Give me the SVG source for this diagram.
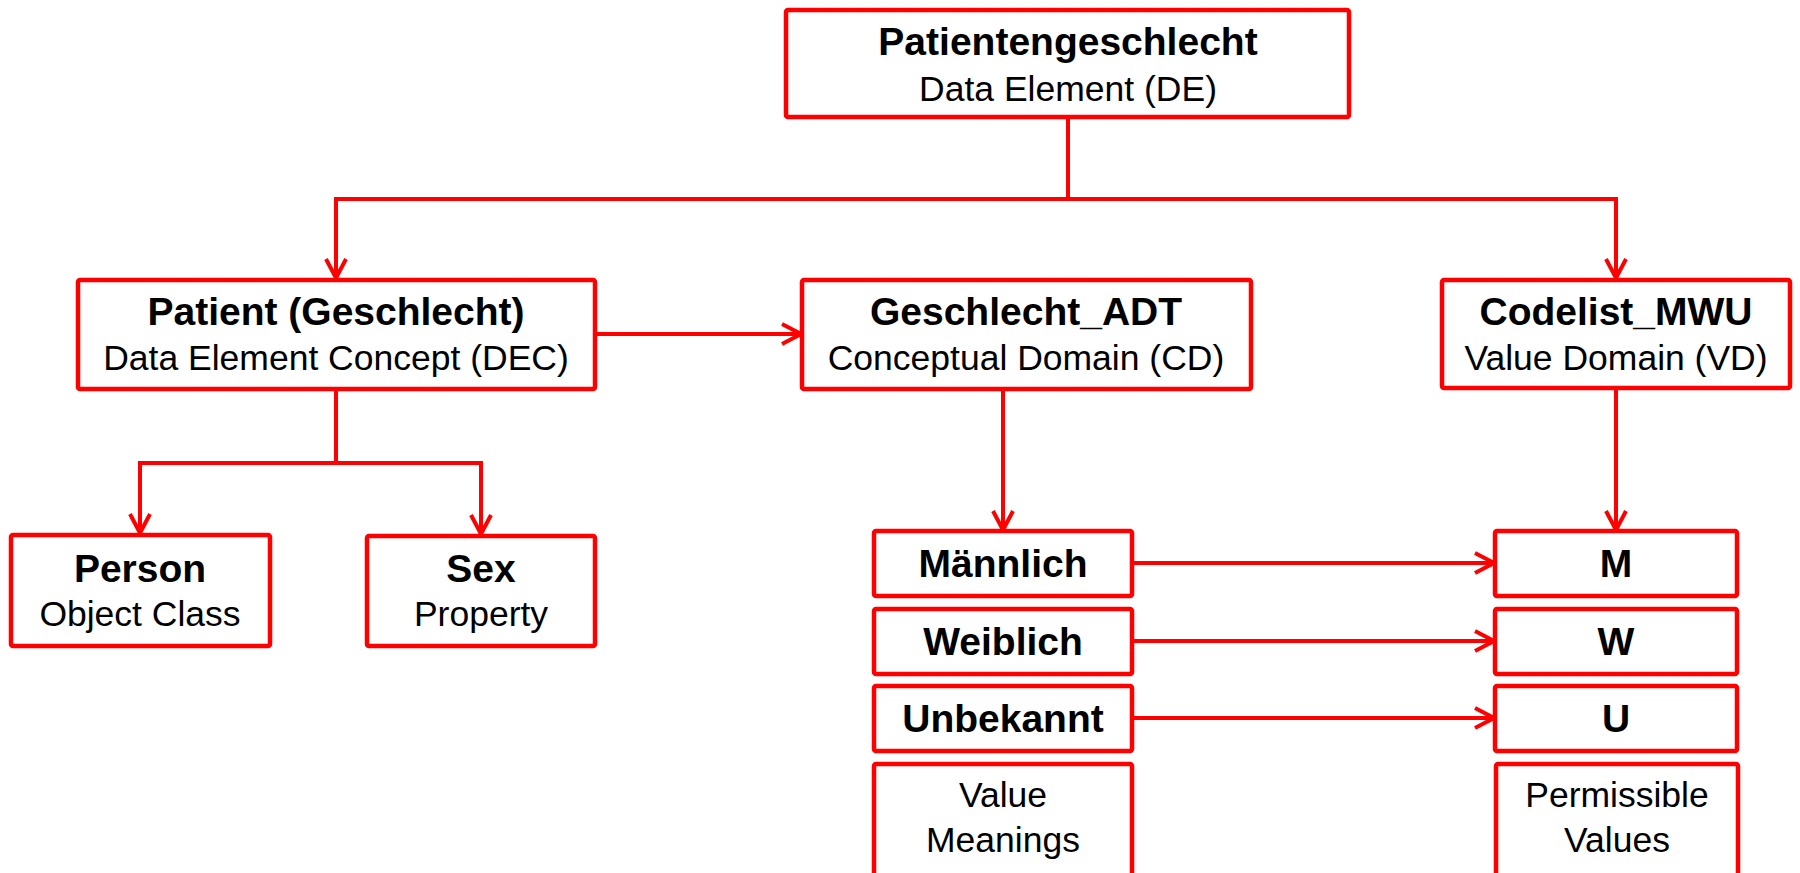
<svg xmlns="http://www.w3.org/2000/svg" width="1800" height="873" viewBox="0 0 1800 873">
<style>
.box{fill:#fff;stroke:#ff0000;stroke-width:4.5}
.t{font-family:"Liberation Sans",Arial,sans-serif;font-weight:bold;font-size:39px;fill:#000;text-anchor:middle}
.s{font-family:"Liberation Sans",Arial,sans-serif;font-size:35.5px;fill:#000;text-anchor:middle}
.c{fill:none;stroke:#ff0000;stroke-width:4}
</style>
<defs>
<marker id="arr" viewBox="0 0 24 24" refX="21" refY="12" markerWidth="24" markerHeight="24" markerUnits="userSpaceOnUse" orient="auto">
<path d="M2,2 L21,12 L2,22" fill="none" stroke="#ff0000" stroke-width="4"/>
</marker>
</defs>
<rect width="1800" height="873" fill="#fff"/>
<g id="connectors">
<path class="c" d="M1068,117 V199"/>
<path class="c" d="M1068,199 H336 V278" marker-end="url(#arr)"/>
<path class="c" d="M1068,199 H1616 V278" marker-end="url(#arr)"/>
<path class="c" d="M595,334 H801" marker-end="url(#arr)"/>
<path class="c" d="M336,389 V463"/>
<path class="c" d="M336,463 H140 V533" marker-end="url(#arr)"/>
<path class="c" d="M336,463 H481 V534" marker-end="url(#arr)"/>
<path class="c" d="M1003,389 V530" marker-end="url(#arr)"/>
<path class="c" d="M1616,388 V530" marker-end="url(#arr)"/>
<path class="c" d="M1132,563 H1494" marker-end="url(#arr)"/>
<path class="c" d="M1132,641 H1494" marker-end="url(#arr)"/>
<path class="c" d="M1132,718 H1494" marker-end="url(#arr)"/>
</g>
<g id="de">
<rect class="box" x="786" y="10" width="563" height="107" rx="2"/>
<text class="t" x="1068" y="55">Patientengeschlecht</text>
<text class="s" x="1068" y="101">Data Element (DE)</text>
</g>
<g id="dec">
<rect class="box" x="78" y="280" width="517" height="109" rx="2"/>
<text class="t" x="336" y="325">Patient (Geschlecht)</text>
<text class="s" x="336" y="370">Data Element Concept (DEC)</text>
</g>
<g id="cd">
<rect class="box" x="802" y="280" width="449" height="109" rx="2"/>
<text class="t" x="1026" y="325">Geschlecht_ADT</text>
<text class="s" x="1026" y="370">Conceptual Domain (CD)</text>
</g>
<g id="vd">
<rect class="box" x="1442" y="280" width="348" height="108" rx="2"/>
<text class="t" x="1616" y="325">Codelist_MWU</text>
<text class="s" x="1616" y="370">Value Domain (VD)</text>
</g>
<g id="person">
<rect class="box" x="11" y="535" width="259" height="111" rx="2"/>
<text class="t" x="140" y="582">Person</text>
<text class="s" x="140" y="626">Object Class</text>
</g>
<g id="sex">
<rect class="box" x="367" y="536" width="228" height="110" rx="2"/>
<text class="t" x="481" y="582">Sex</text>
<text class="s" x="481" y="626">Property</text>
</g>
<g id="maennlich">
<rect class="box" x="874" y="531" width="258" height="65" rx="2"/>
<text class="t" x="1003" y="577">Männlich</text>
</g>
<g id="weiblich">
<rect class="box" x="874" y="609" width="258" height="65" rx="2"/>
<text class="t" x="1003" y="655">Weiblich</text>
</g>
<g id="unbekannt">
<rect class="box" x="874" y="686" width="258" height="65" rx="2"/>
<text class="t" x="1003" y="732">Unbekannt</text>
</g>
<g id="value-meanings">
<rect class="box" x="874" y="764" width="258" height="130" rx="2"/>
<text class="s" x="1003" y="807">Value</text>
<text class="s" x="1003" y="852">Meanings</text>
</g>
<g id="m">
<rect class="box" x="1495" y="531" width="242" height="65" rx="2"/>
<text class="t" x="1616" y="577">M</text>
</g>
<g id="w">
<rect class="box" x="1495" y="609" width="242" height="65" rx="2"/>
<text class="t" x="1616" y="655">W</text>
</g>
<g id="u">
<rect class="box" x="1495" y="686" width="242" height="65" rx="2"/>
<text class="t" x="1616" y="732">U</text>
</g>
<g id="permissible-values">
<rect class="box" x="1496" y="764" width="242" height="130" rx="2"/>
<text class="s" x="1617" y="807">Permissible</text>
<text class="s" x="1617" y="852">Values</text>
</g>
</svg>
